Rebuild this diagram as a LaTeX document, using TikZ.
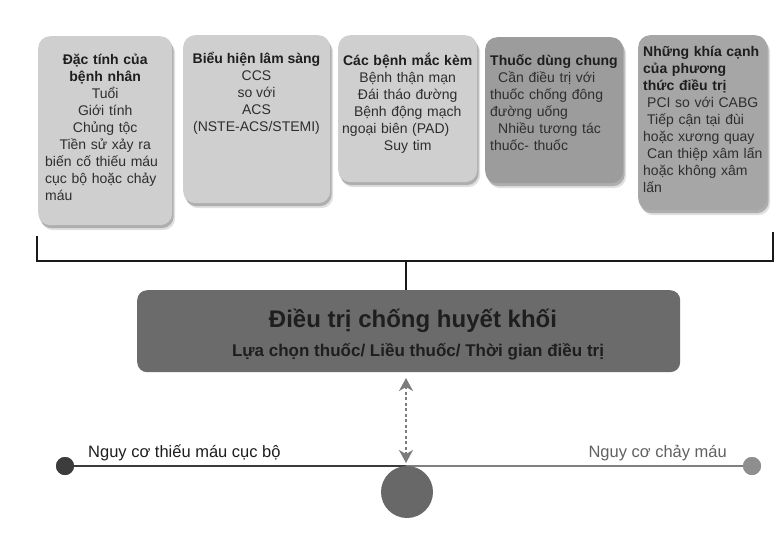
\documentclass[tikz,border=0pt]{standalone}
\usepackage{fontspec}
\setmainfont{Liberation Sans}
\usetikzlibrary{shadows,arrows.meta}
\definecolor{cardlight}{HTML}{CFCFCF}
\definecolor{carddark}{HTML}{9C9C9C}
\definecolor{cardmid}{HTML}{A6A6A6}
\definecolor{mainbox}{HTML}{6B6B6B}
\definecolor{inktext}{HTML}{1E1E1E}
\definecolor{bodytext}{HTML}{2E2E2E}
\definecolor{leftline}{HTML}{3C3C3C}
\definecolor{rightline}{HTML}{808080}
\definecolor{rightdot}{HTML}{8E8E8E}
\definecolor{bigdot}{HTML}{686868}
\definecolor{arrowgray}{HTML}{7C7C7C}
\newcommand\fstrut{\rule{0pt}{13pt}}
\tikzset{
  card/.style={draw=none, rounded corners=12pt, inner sep=0pt, anchor=north west,
    drop shadow={shadow xshift=3pt, shadow yshift=-5pt, fill=black, opacity=0.12},
    drop shadow={shadow xshift=1.5pt, shadow yshift=-3pt, fill=black, opacity=0.22}},
  cardtext/.style={inner sep=0pt, text=bodytext, font=\fontsize{14}{17}\selectfont},
  bracketline/.style={draw=black!90, line width=2pt},
  leftrisk/.style={draw=leftline, line width=2.7pt},
  rightrisk/.style={draw=rightline, line width=2pt},
  riskdot/.style={circle, inner sep=0pt, minimum size=18pt, draw=none},
  dasharrow/.style={draw=arrowgray, line width=1.6pt, dash pattern=on 3pt off 2.5pt,
    {Stealth[length=13pt,width=14pt,inset=4pt]}-{Stealth[length=13pt,width=14pt,inset=4pt]}},
  risklabel/.style={inner sep=0pt, font=\fontsize{16.5}{19}\selectfont}
}
\begin{document}
\begin{tikzpicture}[x=1pt,y=-1pt]
\useasboundingbox[fill=white] (0,0) rectangle (779,542);

% cards
\node[card, fill=cardlight, minimum width=134pt, minimum height=189pt] (c1) at (38,36) {};
\node[card, fill=cardlight, minimum width=147pt, minimum height=168pt] (c2) at (183,35) {};
\node[card, fill=cardlight, minimum width=139pt, minimum height=147pt] (c3) at (338,35) {};
\node[card, fill=carddark, minimum width=138pt, minimum height=146pt] (c4) at (485,37) {};
\node[card, fill=cardmid, minimum width=129pt, minimum height=175pt] (c5) at (638,35) {};

% card texts
\node[cardtext, anchor=north west, text width=120pt] (t1) at (45,51)
 {{\centering\fstrut\textcolor{inktext}{\bfseries Đặc tính của\\bệnh nhân}\\Tuổi\\Giới tính\\Chủng tộc\\Tiền sử xảy ra\par}%
  {\raggedright biến cố thiếu máu\\cục bộ hoặc chảy\\máu\par}};

\node[cardtext, anchor=north, align=center] (t2) at (256.5,50)
 {\fstrut\textcolor{inktext}{\bfseries Biểu hiện lâm sàng}\\CCS\\so với\\ACS\\(NSTE-ACS/STEMI)};

\node[cardtext, anchor=north west, text width=131pt] (t3) at (342,52)
 {{\centering\fstrut\textcolor{inktext}{\bfseries Các bệnh mắc kèm}\\Bệnh thận mạn\\Đái tháo đường\\Bệnh động mạch\par}%
  {\raggedright ngoại biên (PAD)\par}%
  {\centering Suy tim\par}};

\node[cardtext, anchor=north west, text width=130pt, align=left] (t4) at (490,52)
 {\fstrut\textcolor{inktext}{\bfseries Thuốc dùng chung}\\\hspace*{8pt}Cần điều trị với\\thuốc chống đông\\đường uống\\\hspace*{8pt}Nhiều tương tác\\thuốc- thuốc};

\node[cardtext, anchor=north west, text width=126pt, align=left] (t5) at (643,43)
 {\fstrut\textcolor{inktext}{\bfseries Những khía cạnh\\của phương\\thức điều trị}\\\hspace*{4pt}PCI so với CABG\\\hspace*{4pt}Tiếp cận tại đùi\\hoặc xương quay\\\hspace*{4pt}Can thiệp xâm lấn\\hoặc không xâm\\lấn};

% bracket
\coordinate (bl) at (37,236);
\coordinate (br) at (773,232);
\coordinate (bmid) at (406,261);
\draw[bracketline] (bl) |- (bmid) -| (br);

% main box
\node[draw=none, fill=mainbox, rounded corners=10pt, inner sep=0pt, anchor=north west,
      minimum width=543pt, minimum height=82pt] (main) at (137,290) {};
\draw[bracketline] (bmid) -- (bmid |- main.north);
\node[inner sep=0pt, anchor=base, text=inktext, font=\fontsize{24}{28}\selectfont\bfseries]
  (title) at (413,327) {Điều trị chống huyết khối};
\node[inner sep=0pt, anchor=base, text=inktext, font=\fontsize{17}{20}\selectfont\bfseries]
  (subtitle) at (418,356) {Lựa chọn thuốc/ Liều thuốc/ Thời gian điều trị};

% risk scale
\coordinate (mid) at (406,466);
\node[riskdot, fill=leftline] (ldot) at (65,466) {};
\node[riskdot, fill=rightdot] (rdot) at (752,466) {};
\draw[leftrisk] (ldot.center) -- (mid);
\draw[rightrisk] (mid) -- (rdot.center);
\node[riskdot, fill=leftline] at (ldot) {};
\node[riskdot, fill=rightdot] at (rdot) {};
\node[circle, inner sep=0pt, minimum size=52pt, fill=bigdot] (pivot) at (407,492) {};

\coordinate (atop) at (406,378);
\coordinate (abot) at (406,463);
\draw[dasharrow] (atop) -- (abot);

\node[risklabel, anchor=base west, text=inktext] (lrisk) at (88,457) {Nguy cơ thiếu máu cục bộ};
\node[risklabel, anchor=base east, text=black!62] (rrisk) at (727,457) {Nguy cơ chảy máu};
\end{tikzpicture}
\end{document}
